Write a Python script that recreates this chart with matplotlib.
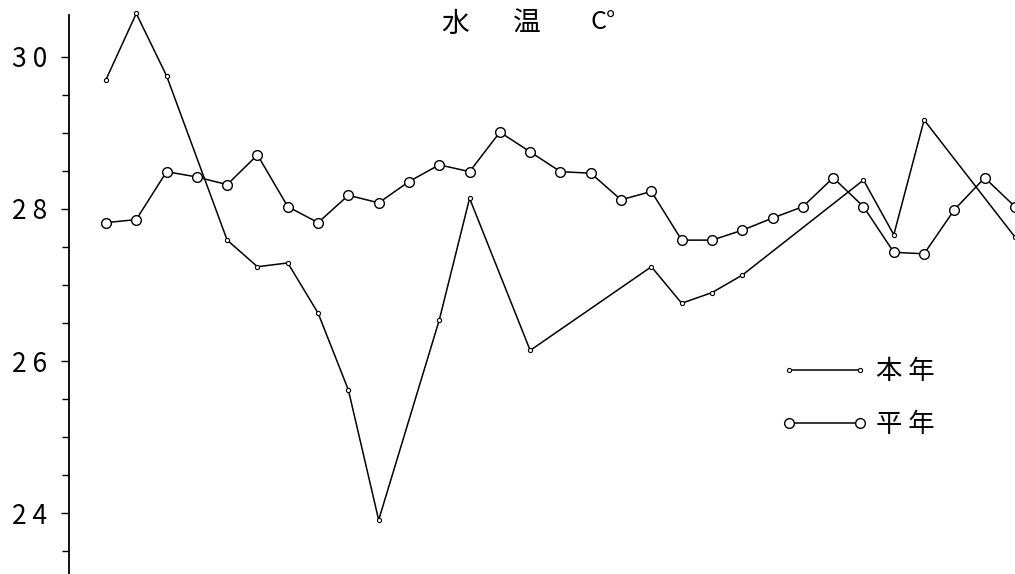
import numpy as np
import matplotlib
matplotlib.use('Agg')
import matplotlib.pyplot as plt

plt.rcParams['font.family'] = ['Noto Sans CJK JP', 'DejaVu Sans']

# half-month steps 0..30
steps = np.arange(31)

# normal-year water temperature (平年)
normal_temp = [27.82, 27.86, 28.49, 28.42, 28.32, 28.71, 28.03, 27.82, 28.18, 28.08,
               28.36, 28.58, 28.49, 29.01, 28.75, 28.49, 28.47, 28.12, 28.23, 27.59,
               27.59, 27.72, 27.88, 28.03, 28.41, 28.03, 27.43, 27.41, 27.99, 28.41,
               28.03]

# this year (本年), only the observed points
this_steps = [0, 1, 2, 4, 5, 6, 7, 8, 9, 11, 12, 14, 18, 19, 20, 21, 25, 26, 27, 30]
this_temp = [29.70, 30.57, 29.75, 27.59, 27.24, 27.29, 26.63, 25.62, 23.91, 26.54,
             28.14, 26.14, 27.24, 26.76, 26.90, 27.13, 28.38, 27.66, 29.17, 27.63]

yticks = [24, 26, 28, 30]
ytick_labels = ['2 4', '2 6', '2 8', '3 0']

fig = plt.figure(figsize=(10.15, 5.74), dpi=100)
ax = fig.add_axes([69 / 1015, 0.0, 946 / 1015, 559 / 574])

ax.plot(this_steps, this_temp, color='black', lw=1.1, marker='o', ms=3,
        mfc='white', mec='black', mew=0.8, clip_on=False, label='本 年')
ax.plot(steps, normal_temp, color='black', lw=1.1, marker='o', ms=7,
        mfc='white', mec='black', mew=1.0, clip_on=False, label='平 年')

ax.set_xlim(-1.22, 30.0)
ax.set_ylim(23.2, 30.55)

for side in ['top', 'right', 'bottom']:
    ax.spines[side].set_visible(False)
ax.spines['left'].set_linewidth(1.3)

ax.set_xticks([])
ax.set_yticks(yticks, labels=ytick_labels)
ax.set_yticks(np.arange(23.5, 30.5, 0.5), minor=True)
ax.tick_params(axis='y', which='major', direction='out', length=6, width=1.0,
               labelsize=19, pad=10)
ax.tick_params(axis='y', which='minor', direction='out', length=5, width=1.0)

# title
fig.text(455 / 1015, 1 - 24 / 574, '水', ha='center', va='center', fontsize=20)
fig.text(527 / 1015, 1 - 24 / 574, '温', ha='center', va='center', fontsize=20)
fig.text(603 / 1015, 1 - 22 / 574, 'C°', ha='center', va='center', fontsize=18)

leg = ax.legend(loc='upper left', bbox_to_anchor=(757 / 1015, 1 - 334 / 574),
                bbox_transform=fig.transFigure, frameon=False, fontsize=19,
                handlelength=3.3, handletextpad=0.3, labelspacing=1.0,
                numpoints=2)

fig.savefig('out.png', dpi=100)
